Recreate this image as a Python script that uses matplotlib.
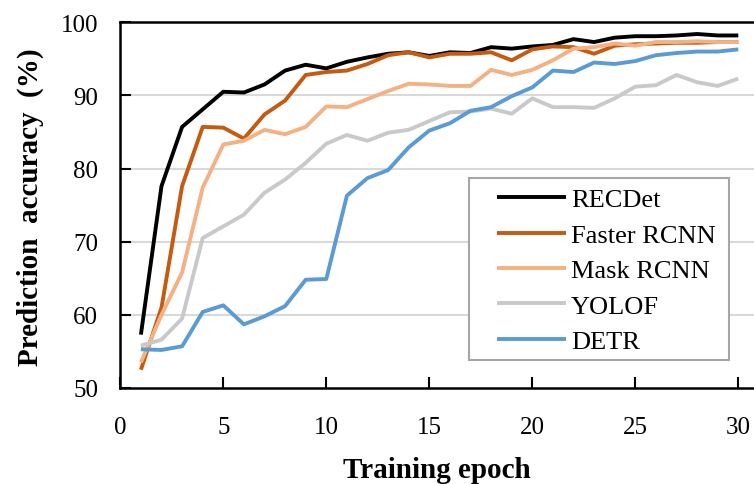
import numpy as np
import matplotlib
matplotlib.use("Agg")
import matplotlib.pyplot as plt
from matplotlib.patches import Rectangle

epochs = np.arange(1, 31)

recdet = [57.3, 77.6, 85.7, 88.1, 90.5, 90.4, 91.5, 93.4, 94.2, 93.7,
          94.6, 95.2, 95.7, 95.9, 95.4, 95.9, 95.8, 96.6, 96.4, 96.7,
          96.9, 97.7, 97.3, 97.9, 98.1, 98.1, 98.2, 98.4, 98.2, 98.2]
faster_rcnn = [52.5, 61.0, 77.6, 85.7, 85.6, 84.1, 87.4, 89.3, 92.8, 93.2,
               93.4, 94.3, 95.5, 95.9, 95.2, 95.7, 95.7, 95.9, 94.8, 96.3,
               96.7, 96.6, 95.7, 96.8, 97.0, 97.1, 97.2, 97.2, 97.3, 97.3]
mask_rcnn = [53.5, 60.0, 65.8, 77.4, 83.3, 83.8, 85.3, 84.7, 85.7, 88.5,
             88.4, 89.5, 90.6, 91.6, 91.5, 91.3, 91.3, 93.5, 92.8, 93.5,
             94.8, 96.4, 96.6, 97.1, 96.8, 97.3, 97.3, 97.4, 97.3, 97.3]
yolof = [55.8, 56.6, 59.5, 70.5, 72.1, 73.7, 76.7, 78.5, 80.8, 83.4,
         84.6, 83.8, 84.9, 85.3, 86.5, 87.7, 87.8, 88.2, 87.5, 89.6,
         88.4, 88.4, 88.3, 89.6, 91.2, 91.4, 92.8, 91.8, 91.3, 92.3]
detr = [55.3, 55.2, 55.7, 60.4, 61.3, 58.7, 59.8, 61.2, 64.8, 64.9,
        76.3, 78.7, 79.8, 82.9, 85.2, 86.2, 87.9, 88.4, 89.9, 91.1,
        93.4, 93.2, 94.5, 94.3, 94.7, 95.5, 95.8, 96.0, 96.0, 96.3]

names = ["RECDet", "Faster RCNN", "Mask RCNN", "YOLOF", "DETR"]
colors = ["#000000", "#C55A11", "#F4B183", "#C9C9C9", "#5B9BD5"]
series = [recdet, faster_rcnn, mask_rcnn, yolof, detr]

plt.rcParams['font.family'] = ['Liberation Serif', 'DejaVu Serif']

W, H = 754, 485
fig = plt.figure(figsize=(W / 100, H / 100), dpi=100)
ax = fig.add_axes([120.3 / W, 1 - 389 / H, 1 - 120.3 / W, (389 - 23.3) / H])

for vals, c, n in zip(series, colors, names):
    ax.plot(epochs, vals, color=c, lw=2.8, label=n, solid_capstyle='butt')

ax.set_xlim(0, (W - 120.3) / 20.6)
ax.set_ylim(50, 100)
ax.set_xticks(range(0, 31, 5))
ax.set_yticks(range(50, 101, 10))
for y in [60, 70, 80, 90]:
    ax.axhline(y, color="#D9D9D9", lw=1.5, zorder=0)

for s in ['left', 'bottom', 'top']:
    ax.spines[s].set_linewidth(1.8)
ax.spines['right'].set_visible(False)
ax.tick_params(direction='in', length=8, width=1.5, labelsize=18)
ax.tick_params(axis='x', pad=20)
ax.tick_params(axis='y', pad=16)

# legend box
box = Rectangle((469 / W, 1 - 361 / H), (729 - 469) / W, (361 - 179) / H,
                transform=fig.transFigure, facecolor='white',
                edgecolor='#A6A6A6', lw=1.5, zorder=4)
ax.add_patch(box)
box.set_clip_on(False)
leg = ax.legend(loc='upper left', bbox_to_anchor=(497 / W, 1 - 189 / H),
                bbox_transform=fig.transFigure, frameon=False, fontsize=19,
                borderpad=0, borderaxespad=0, handlelength=2.6,
                handletextpad=0.2, labelspacing=0.45)
leg.set_zorder(5)

fig.text(30 / W, 1 - 207 / H, "Prediction  accuracy  (%)", rotation=90,
         ha='center', va='center', fontsize=21, fontweight='bold')
fig.text(437 / W, 1 - 478 / H, "Training epoch", ha='center', va='baseline',
         fontsize=21, fontweight='bold')

fig.savefig("out.png", dpi=100)
